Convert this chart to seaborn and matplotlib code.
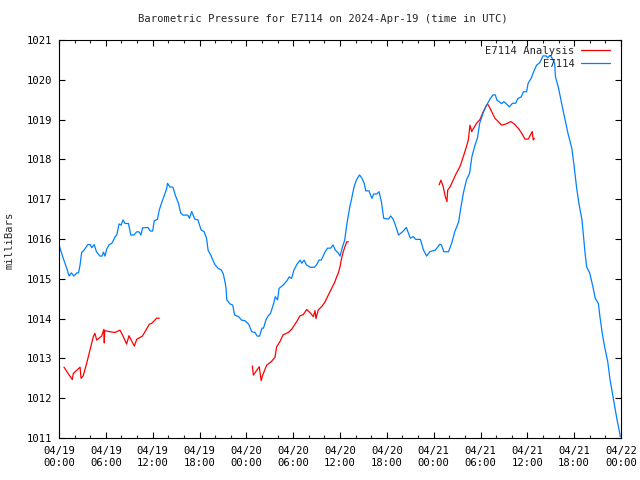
import numpy as np
import pandas as pd
import matplotlib
matplotlib.use("Agg")
import matplotlib.pyplot as plt
import matplotlib.dates as mdates
import seaborn as sns

# ---------------- data ----------------
start_time = "2024-04-19 00:00"
end_time = "2024-04-22 00:00"

# E7114 observations: hours since 04/19 00:00 UTC, pressure in mb
obs_hours = [0.0, 0.13, 0.55, 1.0, 1.3, 1.6, 1.9, 2.3, 2.5, 2.7, 2.9, 3.2, 3.7, 4.0, 4.2, 4.5, 4.8,
             5.25, 5.5, 5.7, 5.9, 6.1, 6.4, 6.8, 7.2, 7.4, 7.7, 7.95, 8.2, 8.45, 8.9, 9.2, 9.6, 9.95,
             10.25, 10.5, 10.7, 11.4, 11.7, 12.0, 12.2, 12.6, 12.85, 13.2, 13.5, 13.8, 13.9, 14.2,
             14.6, 14.9, 15.3, 15.6, 15.9, 16.5, 16.7, 17.0, 17.4, 17.8, 18.2, 18.6, 18.9, 19.1,
             19.5, 19.8, 20.0, 20.4, 20.8, 21.05, 21.3, 21.4, 21.5, 21.9, 22.25, 22.5, 23.0, 23.4,
             23.8, 24.3, 24.7, 25.1, 25.4, 25.7, 26.0, 26.2, 26.5, 26.8, 27.1, 27.5, 27.7, 28.0,
             28.2, 28.7, 29.2, 29.5, 29.8, 30.1, 30.5, 30.9, 31.1, 31.4, 31.7, 32.2, 32.7, 33.0,
             33.3, 33.6, 34.1, 34.4, 34.8, 35.1, 35.4, 35.8, 36.0, 36.3, 36.6, 36.8, 37.0, 37.3,
             37.5, 37.8, 38.1, 38.5, 38.8, 39.1, 39.3, 39.7, 40.1, 40.3, 40.7, 41.0, 41.3, 41.6,
             42.2, 42.5, 42.8, 43.1, 43.5, 44.0, 44.5, 45.0, 45.4, 45.7, 46.3, 46.7, 47.1, 47.5,
             48.2, 48.8, 49.0, 49.3, 49.9, 50.3, 50.7, 51.2, 51.5, 51.8, 52.2, 52.6, 52.9, 53.3,
             53.6, 53.9, 54.4, 54.8, 55.2, 55.6, 55.9, 56.1, 56.4, 56.7, 57.0, 57.3, 57.7, 58.1,
             58.5, 58.8, 59.2, 59.5, 59.9, 60.1, 60.5, 60.9, 61.2, 61.6, 62.0, 62.4, 62.6, 62.8,
             63.0, 63.3, 63.5, 63.6, 64.0, 64.4, 64.8, 65.2, 65.7, 66.0, 66.3, 66.6, 67.0, 67.2,
             67.4, 67.6, 68.0, 68.4, 68.7, 69.1, 69.3, 69.6, 69.9, 70.3, 70.6, 70.9, 71.2, 71.5,
             71.8, 71.9]
obs_mb = [1015.85, 1015.77, 1015.51, 1015.26, 1015.07, 1015.15, 1015.07, 1015.15, 1015.15, 1015.35,
          1015.66, 1015.72, 1015.86, 1015.86, 1015.78, 1015.86, 1015.68, 1015.57, 1015.57, 1015.67,
          1015.57, 1015.74, 1015.85, 1015.90, 1016.06, 1016.10, 1016.38, 1016.35, 1016.48, 1016.39,
          1016.39, 1016.10, 1016.10, 1016.18, 1016.18, 1016.10, 1016.28, 1016.29, 1016.20, 1016.20,
          1016.46, 1016.49, 1016.73, 1016.94, 1017.10, 1017.27, 1017.40, 1017.31, 1017.30, 1017.10,
          1016.90, 1016.65, 1016.60, 1016.60, 1016.52, 1016.69, 1016.50, 1016.48, 1016.23, 1016.18,
          1016.02, 1015.72, 1015.57, 1015.43, 1015.35, 1015.26, 1015.22, 1015.12, 1014.89, 1014.76,
          1014.47, 1014.37, 1014.34, 1014.09, 1014.05, 1013.96, 1013.95, 1013.86, 1013.67, 1013.65,
          1013.56, 1013.56, 1013.76, 1013.76, 1013.96, 1014.07, 1014.13, 1014.38, 1014.55, 1014.47,
          1014.76, 1014.84, 1014.95, 1015.05, 1015.01, 1015.22, 1015.37, 1015.47, 1015.39, 1015.47,
          1015.35, 1015.29, 1015.29, 1015.35, 1015.47, 1015.47, 1015.68, 1015.77, 1015.77, 1015.85,
          1015.72, 1015.64, 1015.57, 1015.79, 1015.97, 1016.27, 1016.52, 1016.85, 1017.02, 1017.31,
          1017.48, 1017.61, 1017.53, 1017.40, 1017.21, 1017.21, 1017.02, 1017.13, 1017.13, 1017.19,
          1016.94, 1016.52, 1016.50, 1016.58, 1016.50, 1016.35, 1016.10, 1016.18, 1016.29, 1016.02,
          1016.06, 1015.99, 1015.99, 1015.72, 1015.57, 1015.68, 1015.72, 1015.87, 1015.85, 1015.68,
          1015.68, 1015.89, 1016.18, 1016.43, 1016.81, 1017.15, 1017.48, 1017.65, 1018.07, 1018.36,
          1018.53, 1018.91, 1019.20, 1019.37, 1019.51, 1019.62, 1019.62, 1019.49, 1019.45, 1019.40,
          1019.45, 1019.40, 1019.32, 1019.41, 1019.41, 1019.53, 1019.57, 1019.70, 1019.70, 1019.91,
          1020.04, 1020.25, 1020.37, 1020.43, 1020.60, 1020.60, 1020.55, 1020.60, 1020.60, 1020.50,
          1020.41, 1020.08, 1019.79, 1019.40, 1019.03, 1018.66, 1018.28, 1017.82, 1017.31, 1016.90,
          1016.48, 1016.06, 1015.64, 1015.30, 1015.14, 1014.80, 1014.51, 1014.38, 1014.05, 1013.63,
          1013.29, 1012.92, 1012.46, 1012.12, 1011.79, 1011.45, 1011.16, 1011.03]

# E7114 Analysis: three separate runs
ana_hours_1 = [0.64, 1.2, 1.7, 1.83, 2.7, 2.82, 3.1, 3.55, 3.97, 4.4, 4.6, 4.83, 5.46, 5.75, 5.8,
               5.85, 6.53, 7.17, 7.81, 8.23, 8.66, 8.97, 9.65, 9.96, 10.68, 11.02, 11.57, 11.87,
               12.51, 12.85]
ana_mb_1 = [1012.78, 1012.61, 1012.47, 1012.62, 1012.78, 1012.50, 1012.56, 1012.88, 1013.21,
            1013.55, 1013.63, 1013.46, 1013.56, 1013.73, 1013.39, 1013.70, 1013.67, 1013.65,
            1013.71, 1013.55, 1013.36, 1013.57, 1013.31, 1013.48, 1013.56, 1013.67, 1013.86,
            1013.88, 1014.01, 1014.01]
ana_hours_2 = [24.77, 24.9, 25.4, 25.66, 25.9, 26.1, 26.6, 27.2, 27.67, 27.88, 28.3, 28.7, 29.37,
               29.8, 30.44, 30.87, 31.3, 31.73, 32.16, 32.58, 32.8, 32.92, 33.22, 33.65, 34.08,
               34.5, 34.93, 35.36, 35.57, 35.78, 36.0, 36.2, 36.42, 36.64, 36.86, 37.06]
ana_mb_2 = [1012.81, 1012.58, 1012.72, 1012.79, 1012.44, 1012.58, 1012.83, 1012.92, 1013.03,
            1013.29, 1013.42, 1013.59, 1013.65, 1013.73, 1013.92, 1014.07, 1014.10, 1014.23,
            1014.15, 1014.05, 1014.20, 1014.00, 1014.22, 1014.30, 1014.42, 1014.59, 1014.76,
            1014.93, 1015.05, 1015.14, 1015.30, 1015.51, 1015.68, 1015.81, 1015.93, 1015.93]
ana_hours_3 = [48.7, 48.93, 49.23, 49.45, 49.7, 49.8, 50.1, 50.5, 50.9, 51.37, 51.8, 52.2, 52.44,
               52.65, 52.87, 53.2, 53.5, 53.93, 54.36, 54.79, 55.0, 55.43, 55.86, 56.28, 56.71,
               57.13, 57.9, 58.33, 58.84, 59.27, 59.7, 60.12, 60.63, 60.76, 60.89]
ana_mb_3 = [1017.36, 1017.48, 1017.31, 1017.10, 1016.94, 1017.23, 1017.31, 1017.48, 1017.65,
            1017.82, 1018.07, 1018.32, 1018.49, 1018.86, 1018.70, 1018.81, 1018.91, 1019.00,
            1019.20, 1019.37, 1019.37, 1019.20, 1019.03, 1018.95, 1018.86, 1018.88, 1018.95,
            1018.89, 1018.78, 1018.66, 1018.51, 1018.51, 1018.70, 1018.49, 1018.53]

series_names = ["E7114 Analysis", "E7114"]
series_colors = ["#ff0000", "#0080ff"]
y_ticks = [1011, 1012, 1013, 1014, 1015, 1016, 1017, 1018, 1019, 1020, 1021]
title_text = "Barometric Pressure for E7114 on 2024-Apr-19 (time in UTC)"
y_label = "milliBars"

# ---------------- build table ----------------
t0 = pd.Timestamp(start_time)
frames = []
for seg, (h, p) in enumerate([(ana_hours_1, ana_mb_1), (ana_hours_2, ana_mb_2), (ana_hours_3, ana_mb_3)]):
    frames.append(pd.DataFrame({"hours": h, "mb": p, "series": series_names[0], "segment": seg}))
frames.append(pd.DataFrame({"hours": obs_hours, "mb": obs_mb, "series": series_names[1], "segment": 10}))
df = pd.concat(frames, ignore_index=True)
df["time"] = t0 + pd.to_timedelta(df["hours"], unit="h")

# ---------------- style ----------------
sns.set_style("ticks")
mono = ["DejaVu Sans Mono", "DejaVu Sans"]
plt.rcParams["font.family"] = mono
fs = 7.6
plt.rcParams["font.size"] = fs

fig = plt.figure(figsize=(6.4, 4.8), dpi=100)
ax = fig.add_axes([59 / 640, 1 - 438 / 480, (621 - 59) / 640, (438 - 40) / 480])

sns.lineplot(data=df, x="time", y="mb", hue="series", units="segment", estimator=None,
             sort=False, hue_order=series_names, palette=dict(zip(series_names, series_colors)),
             linewidth=0.9, ax=ax, legend=True)

ax.set_xlim(pd.Timestamp(start_time), pd.Timestamp(end_time))
ax.set_ylim(y_ticks[0], y_ticks[-1])
ax.set_yticks(y_ticks)
ax.xaxis.set_major_locator(mdates.HourLocator(byhour=[0, 6, 12, 18]))
ax.xaxis.set_minor_locator(mdates.HourLocator(interval=2))
ax.xaxis.set_major_formatter(mdates.DateFormatter("%m/%d\n%H:%M"))
ax.set_xlabel("")
ax.set_ylabel("")

for s in ax.spines.values():
    s.set_visible(True)
    s.set_linewidth(0.8)
    s.set_color("black")

ax.tick_params(axis="both", which="major", direction="in", length=4.5, width=0.8,
               top=True, right=True, labelsize=fs, colors="black", pad=5)
ax.tick_params(axis="x", which="major", pad=6)
ax.tick_params(axis="x", which="minor", direction="in", length=2.5, width=0.8, top=True)
for lab in ax.get_xticklabels():
    lab.set_linespacing(1.25)

handles, labels = ax.get_legend_handles_labels()
leg = ax.legend(handles, labels, loc="upper right", bbox_to_anchor=(0.981, 0.985),
                frameon=False, markerfirst=False, handlelength=2.75, handletextpad=0.65,
                labelspacing=0.3, borderaxespad=0, borderpad=0, fontsize=fs)
for line in leg.get_lines():
    line.set_linewidth(0.9)

fig.text(0.505, 1 - 19 / 480, title_text, ha="center", va="center", fontsize=fs)
fig.text(10 / 640, 0.5, y_label, rotation=90, ha="center", va="center", fontsize=fs)

fig.savefig("out.png", dpi=100)
